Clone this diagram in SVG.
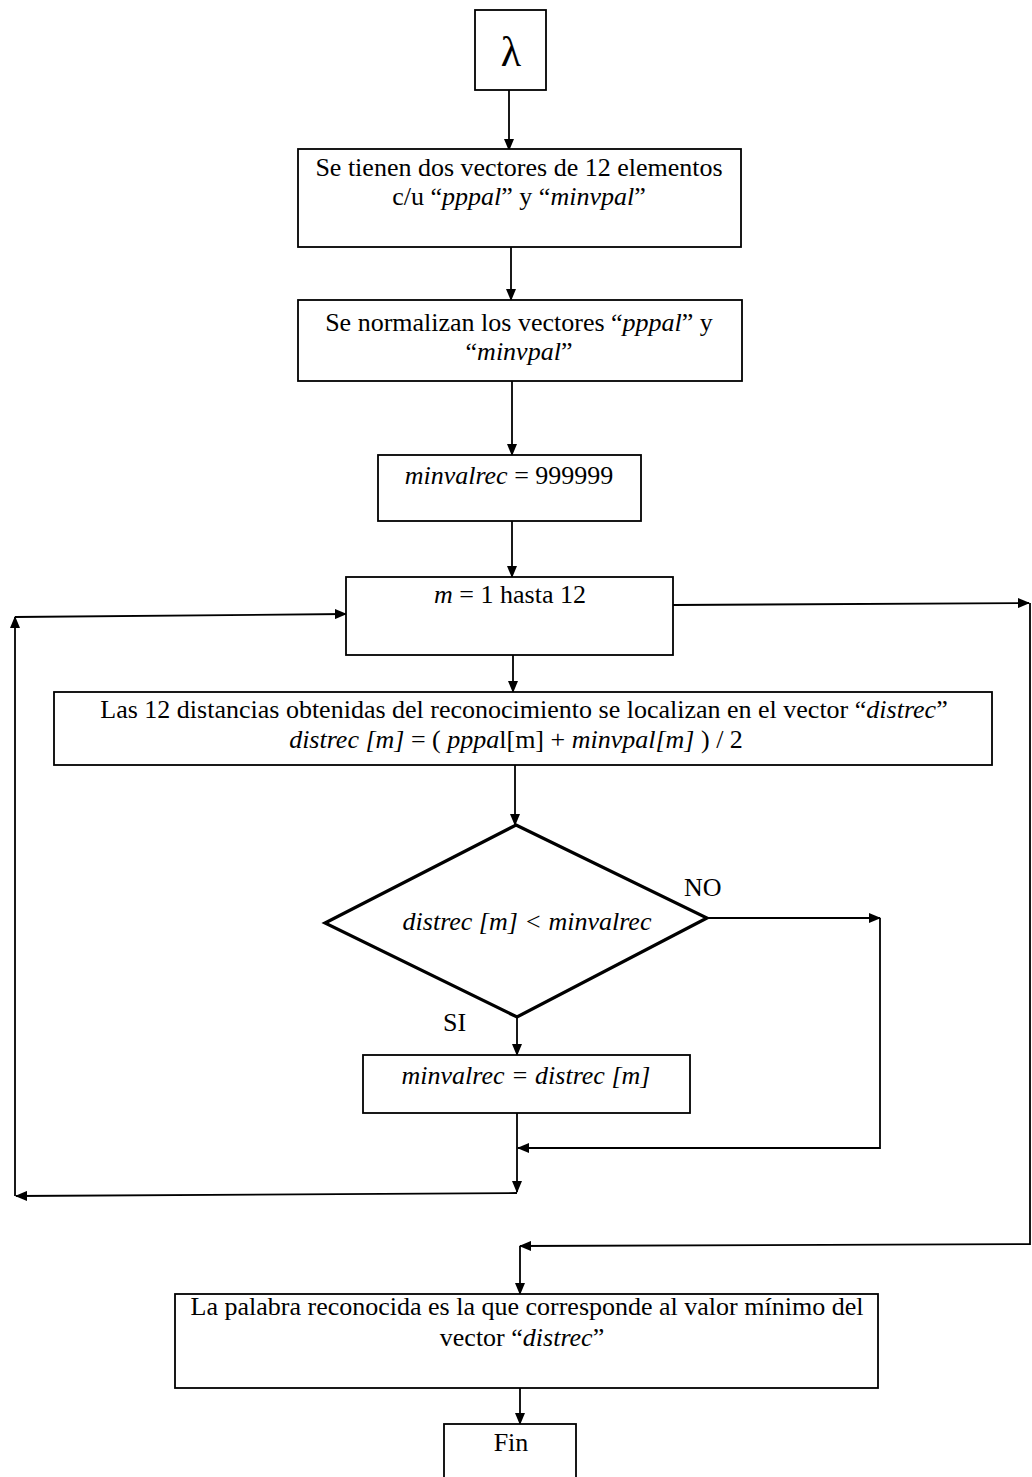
<svg xmlns="http://www.w3.org/2000/svg" width="1032" height="1477" viewBox="0 0 1032 1477">
  <style>
    .box { fill: #fff; stroke: #000; stroke-width: 1.8; }
    .dia { fill: #fff; stroke: #000; stroke-width: 3.2; stroke-linejoin: miter; }
    .line { fill: none; stroke: #000; stroke-width: 1.8; }
    text { font-family: "Liberation Serif", "Times New Roman", serif; font-size: 26px; fill: #000; }
    .c { text-anchor: middle; }
    .i { font-style: italic; }
  </style>
  <defs>
    <marker id="arr" markerWidth="12" markerHeight="10" refX="11" refY="5" orient="auto" markerUnits="userSpaceOnUse">
      <path d="M0,0 L12,5 L0,10 Z" fill="#000"/>
    </marker>
  </defs>

  <rect width="1032" height="1477" fill="#fff"/>

  <!-- connectors -->
  <g id="connectors">
    <path class="line" d="M509,90 L509,150" marker-end="url(#arr)"/>
    <path class="line" d="M511,247 L511,300" marker-end="url(#arr)"/>
    <path class="line" d="M512,381 L512,455" marker-end="url(#arr)"/>
    <path class="line" d="M512,521 L512,577" marker-end="url(#arr)"/>
    <path class="line" d="M513,655 L513,692" marker-end="url(#arr)"/>
    <path class="line" d="M515,765 L515,825" marker-end="url(#arr)"/>
    <!-- SI branch -->
    <path class="line" d="M517,1017 L517,1055" marker-end="url(#arr)"/>
    <!-- NO branch -->
    <path class="line" d="M707,918 L880,918" marker-end="url(#arr)"/>
    <path class="line" d="M880,918 L880,1148 L518,1148" marker-end="url(#arr)"/>
    <!-- end of loop body -->
    <path class="line" d="M517,1113 L517,1192" marker-end="url(#arr)"/>
    <!-- loop back -->
    <path class="line" d="M517,1193 L16,1196" marker-end="url(#arr)"/>
    <path class="line" d="M15,1196 L15,617" marker-end="url(#arr)"/>
    <path class="line" d="M15,617 L346,614" marker-end="url(#arr)"/>
    <!-- loop exit -->
    <path class="line" d="M673,605 L1029,603" marker-end="url(#arr)"/>
    <path class="line" d="M1030,603 L1030,1244 L520,1246" marker-end="url(#arr)"/>
    <path class="line" d="M520,1246 L520,1294" marker-end="url(#arr)"/>
    <path class="line" d="M520,1388 L520,1424" marker-end="url(#arr)"/>
  </g>

  <g id="start">
    <rect class="box" x="475" y="10" width="71" height="80"/>
    <text class="c" x="511" y="66" style="font-size:42px">λ</text>
  </g>

  <g id="vectors">
    <rect class="box" x="298" y="149" width="443" height="98"/>
    <text class="c" x="519" y="176">Se tienen dos vectores de 12 elementos</text>
    <text class="c" x="519" y="205">c/u “<tspan class="i">pppal</tspan>” y “<tspan class="i">minvpal</tspan>”</text>
  </g>

  <g id="normalize">
    <rect class="box" x="298" y="300" width="444" height="81"/>
    <text class="c" x="519" y="331">Se normalizan los vectores “<tspan class="i">pppal</tspan>” y</text>
    <text class="c" x="519" y="360">“<tspan class="i">minvpal</tspan>”</text>
  </g>

  <g id="init">
    <rect class="box" x="378" y="455" width="263" height="66"/>
    <text class="c" x="509" y="484"><tspan class="i">minvalrec</tspan> = 999999</text>
  </g>

  <g id="loop">
    <rect class="box" x="346" y="577" width="327" height="78"/>
    <text class="c" x="510" y="603"><tspan class="i">m</tspan> = 1 hasta 12</text>
  </g>

  <g id="distances">
    <rect class="box" x="54" y="692" width="938" height="73"/>
    <text class="c" x="524" y="718">Las 12 distancias obtenidas del reconocimiento se localizan en el vector “<tspan class="i">distrec</tspan>”</text>
    <text class="c" x="516" y="748"><tspan class="i">distrec [m]</tspan> = ( <tspan class="i">pppa</tspan>l[m] + <tspan class="i">minvpal[m]</tspan> ) / 2</text>
  </g>

  <g id="decision">
    <polygon class="dia" points="516,825 707,918 517,1017 325,923"/>
    <text class="c i" x="527" y="930">distrec [m] &lt; minvalrec</text>
    <text x="684" y="896">NO</text>
    <text x="443" y="1031">SI</text>
  </g>

  <g id="update">
    <rect class="box" x="363" y="1055" width="327" height="58"/>
    <text class="c i" x="526" y="1084">minvalrec = distrec [m]</text>
  </g>

  <g id="result">
    <rect class="box" x="175" y="1294" width="703" height="94"/>
    <text class="c" x="527" y="1315">La palabra reconocida es la que corresponde al valor mínimo del</text>
    <text class="c" x="522" y="1346">vector “<tspan class="i">distrec</tspan>”</text>
  </g>

  <g id="end">
    <rect class="box" x="444" y="1424" width="132" height="60"/>
    <text class="c" x="511" y="1451">Fin</text>
  </g>
</svg>
